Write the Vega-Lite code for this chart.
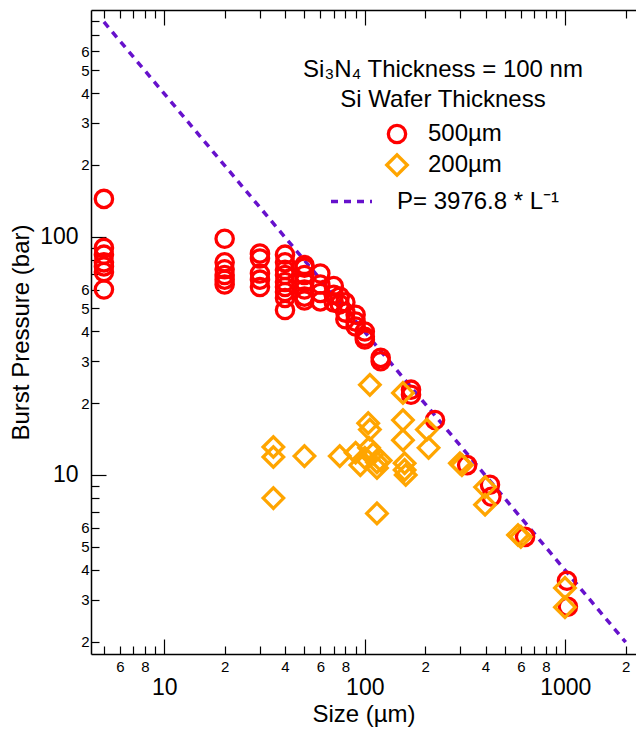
{
  "$schema": "https://vega.github.io/schema/vega-lite/v6.json",
  "width": 545,
  "height": 644,
  "autosize": {"type": "none"},
  "padding": {"left": 91, "top": 10, "right": 0, "bottom": 76},
  "background": "white",
  "config": {
    "view": {"stroke": null},
    "font": "Liberation Sans",
    "axis": {
      "grid": false,
      "domainColor": "black",
      "domainWidth": 1.5,
      "tickColor": "black",
      "tickWidth": 1.2,
      "labelColor": "black",
      "titleColor": "black",
      "titleFont": "Liberation Sans",
      "labelFont": "Liberation Sans",
      "labelFontSize": 15,
      "titleFontWeight": "normal",
      "labelOverlap": false,
      "labelFlush": false,
      "labelBound": false
    },
    "legend": {
      "titleFont": "Liberation Sans",
      "labelFont": "Liberation Sans",
      "titleColor": "black",
      "labelColor": "black",
      "titleFontWeight": "normal",
      "titleLimit": 600,
      "labelLimit": 600
    }
  },
  "datasets": {
    "pts": [
      {"size": 5, "pressure": 144, "wafer": "500µm"},
      {"size": 5, "pressure": 89.7, "wafer": "500µm"},
      {"size": 5, "pressure": 84, "wafer": "500µm"},
      {"size": 5, "pressure": 78, "wafer": "500µm"},
      {"size": 5, "pressure": 75, "wafer": "500µm"},
      {"size": 5, "pressure": 71, "wafer": "500µm"},
      {"size": 5, "pressure": 60, "wafer": "500µm"},
      {"size": 20, "pressure": 98, "wafer": "500µm"},
      {"size": 20, "pressure": 78, "wafer": "500µm"},
      {"size": 20, "pressure": 73, "wafer": "500µm"},
      {"size": 20, "pressure": 69, "wafer": "500µm"},
      {"size": 20, "pressure": 66, "wafer": "500µm"},
      {"size": 20, "pressure": 63, "wafer": "500µm"},
      {"size": 30, "pressure": 85, "wafer": "500µm"},
      {"size": 30, "pressure": 81, "wafer": "500µm"},
      {"size": 30, "pressure": 70, "wafer": "500µm"},
      {"size": 30, "pressure": 66, "wafer": "500µm"},
      {"size": 30, "pressure": 61.5, "wafer": "500µm"},
      {"size": 40, "pressure": 84, "wafer": "500µm"},
      {"size": 40, "pressure": 78, "wafer": "500µm"},
      {"size": 40, "pressure": 72.5, "wafer": "500µm"},
      {"size": 40, "pressure": 69, "wafer": "500µm"},
      {"size": 40, "pressure": 64.5, "wafer": "500µm"},
      {"size": 40, "pressure": 61.5, "wafer": "500µm"},
      {"size": 40, "pressure": 58.6, "wafer": "500µm"},
      {"size": 40, "pressure": 55.3, "wafer": "500µm"},
      {"size": 40, "pressure": 49.2, "wafer": "500µm"},
      {"size": 50, "pressure": 76, "wafer": "500µm"},
      {"size": 50, "pressure": 74, "wafer": "500µm"},
      {"size": 50, "pressure": 69, "wafer": "500µm"},
      {"size": 50, "pressure": 64.5, "wafer": "500µm"},
      {"size": 50, "pressure": 60, "wafer": "500µm"},
      {"size": 50, "pressure": 56, "wafer": "500µm"},
      {"size": 50, "pressure": 54, "wafer": "500µm"},
      {"size": 60, "pressure": 70, "wafer": "500µm"},
      {"size": 60, "pressure": 63, "wafer": "500µm"},
      {"size": 60, "pressure": 58, "wafer": "500µm"},
      {"size": 60, "pressure": 53.5, "wafer": "500µm"},
      {"size": 70, "pressure": 62, "wafer": "500µm"},
      {"size": 70, "pressure": 57, "wafer": "500µm"},
      {"size": 70, "pressure": 53, "wafer": "500µm"},
      {"size": 75, "pressure": 56, "wafer": "500µm"},
      {"size": 75, "pressure": 52, "wafer": "500µm"},
      {"size": 80, "pressure": 53, "wafer": "500µm"},
      {"size": 80, "pressure": 48, "wafer": "500µm"},
      {"size": 80, "pressure": 45, "wafer": "500µm"},
      {"size": 90, "pressure": 47, "wafer": "500µm"},
      {"size": 90, "pressure": 44, "wafer": "500µm"},
      {"size": 90, "pressure": 42, "wafer": "500µm"},
      {"size": 100, "pressure": 40, "wafer": "500µm"},
      {"size": 100, "pressure": 38, "wafer": "500µm"},
      {"size": 100, "pressure": 37, "wafer": "500µm"},
      {"size": 120, "pressure": 31, "wafer": "500µm"},
      {"size": 120, "pressure": 30, "wafer": "500µm"},
      {"size": 170, "pressure": 22.8, "wafer": "500µm"},
      {"size": 170, "pressure": 21.7, "wafer": "500µm"},
      {"size": 224, "pressure": 17, "wafer": "500µm"},
      {"size": 324, "pressure": 11, "wafer": "500µm"},
      {"size": 421, "pressure": 9.1, "wafer": "500µm"},
      {"size": 428, "pressure": 8.1, "wafer": "500µm"},
      {"size": 630, "pressure": 5.5, "wafer": "500µm"},
      {"size": 1019, "pressure": 3.6, "wafer": "500µm"},
      {"size": 1030, "pressure": 2.8, "wafer": "500µm"},
      {"size": 35, "pressure": 13.1, "wafer": "200µm"},
      {"size": 35, "pressure": 11.9, "wafer": "200µm"},
      {"size": 35, "pressure": 8.0, "wafer": "200µm"},
      {"size": 50, "pressure": 12.0, "wafer": "200µm"},
      {"size": 75, "pressure": 12.0, "wafer": "200µm"},
      {"size": 106, "pressure": 23.9, "wafer": "200µm"},
      {"size": 104, "pressure": 16.5, "wafer": "200µm"},
      {"size": 106, "pressure": 15.5, "wafer": "200µm"},
      {"size": 90, "pressure": 12.4, "wafer": "200µm"},
      {"size": 95, "pressure": 11.0, "wafer": "200µm"},
      {"size": 100, "pressure": 11.8, "wafer": "200µm"},
      {"size": 105, "pressure": 13.0, "wafer": "200µm"},
      {"size": 110, "pressure": 12.3, "wafer": "200µm"},
      {"size": 115, "pressure": 11.3, "wafer": "200µm"},
      {"size": 115, "pressure": 10.7, "wafer": "200µm"},
      {"size": 120, "pressure": 11.5, "wafer": "200µm"},
      {"size": 115, "pressure": 6.9, "wafer": "200µm"},
      {"size": 155, "pressure": 22.1, "wafer": "200µm"},
      {"size": 155, "pressure": 17.0, "wafer": "200µm"},
      {"size": 155, "pressure": 14.0, "wafer": "200µm"},
      {"size": 158, "pressure": 11.2, "wafer": "200µm"},
      {"size": 158, "pressure": 10.5, "wafer": "200µm"},
      {"size": 160, "pressure": 10.0, "wafer": "200µm"},
      {"size": 204, "pressure": 15.5, "wafer": "200µm"},
      {"size": 208, "pressure": 13.0, "wafer": "200µm"},
      {"size": 298, "pressure": 11.2, "wafer": "200µm"},
      {"size": 305, "pressure": 11.0, "wafer": "200µm"},
      {"size": 398, "pressure": 8.9, "wafer": "200µm"},
      {"size": 398, "pressure": 7.5, "wafer": "200µm"},
      {"size": 581, "pressure": 5.6, "wafer": "200µm"},
      {"size": 600, "pressure": 5.5, "wafer": "200µm"},
      {"size": 996, "pressure": 3.36, "wafer": "200µm"},
      {"size": 996, "pressure": 2.79, "wafer": "200µm"}
    ],
    "fit": [
      {"size": 5, "pressure": 795.36, "series": "P= 3976.8 * L⁻¹"},
      {"size": 2000, "pressure": 1.9884, "series": "P= 3976.8 * L⁻¹"}
    ]
  },
  "encoding": {
    "y": {
      "field": "pressure",
      "type": "quantitative",
      "scale": {"type": "log", "domain": [1.774, 893], "nice": false, "zero": false},
      "axis": {
        "orient": "left",
        "title": "Burst Pressure (bar)",
        "titleFontSize": 24,
        "titlePadding": 6,
        "values": [2, 3, 4, 5, 6, 7, 8, 9, 10, 20, 30, 40, 50, 60, 70, 80, 90, 100, 200, 300, 400, 500, 600, 700, 800],
        "format": "d",
        "labelExpr": "indexof([10,100], datum.value) >= 0 ? datum.label : (indexof([2,3,4,5,6,20,30,40,50,60,200,300,400,500,600], datum.value) >= 0 ? substring(datum.label, 0, 1) : '')",
        "labelFontSize": {"condition": {"test": "indexof([10,100], datum.value) >= 0", "value": 23}, "value": 15},
        "labelPadding": {"condition": {"test": "indexof([10,100], datum.value) >= 0", "value": 28}, "value": 10},
        "tickSize": {"condition": {"test": "indexof([10,100], datum.value) >= 0", "value": -15}, "value": -8}
      }
    }
  },
  "layer": [
    {
      "data": {"name": "fit"},
      "mark": {"type": "line", "color": "#6611cc", "strokeWidth": 3.5, "strokeCap": "butt"},
      "encoding": {
        "x": {
          "field": "size",
          "type": "quantitative",
          "scale": {"type": "log", "domain": [4.31, 2252], "nice": false, "zero": false},
          "axis": {
            "orient": "top",
            "title": null,
            "labels": false,
            "values": [5, 6, 7, 8, 9, 10, 20, 30, 40, 50, 60, 70, 80, 90, 100, 200, 300, 400, 500, 600, 700, 800, 900, 1000, 2000],
            "tickSize": {"condition": {"test": "indexof([10,100,1000], datum.value) >= 0", "value": -15}, "value": -8}
          }
        },
        "strokeDash": {
          "field": "series",
          "type": "nominal",
          "scale": {"domain": ["P= 3976.8 * L⁻¹"], "range": [[7, 6]]},
          "legend": {
            "orient": "none",
            "legendX": 238,
            "legendY": 169,
            "title": null,
            "labelFontSize": 24,
            "symbolType": "stroke",
            "symbolSize": 1681,
            "symbolStrokeColor": "#6611cc",
            "symbolStrokeWidth": 3.5,
            "symbolOffset": 0,
            "labelOffset": 23
          }
        }
      }
    },
    {
      "data": {"name": "pts"},
      "mark": {"type": "point", "filled": false, "strokeWidth": 3.3, "opacity": 1},
      "encoding": {
        "x": {
          "field": "size",
          "type": "quantitative",
          "scale": {"type": "log", "domain": [4.31, 2252], "nice": false, "zero": false},
          "axis": {
            "orient": "bottom",
            "title": "Size (µm)",
            "titleFontSize": 24,
            "titlePadding": 3,
            "values": [5, 6, 7, 8, 9, 10, 20, 30, 40, 50, 60, 70, 80, 90, 100, 200, 300, 400, 500, 600, 700, 800, 900, 1000, 2000],
            "format": "d",
            "labelExpr": "indexof([10,100,1000], datum.value) >= 0 ? datum.label : (indexof([6,8,20,40,60,80,200,400,600,800,2000], datum.value) >= 0 ? substring(datum.label, 0, 1) : '')",
            "labelFontSize": {"condition": {"test": "indexof([10,100,1000], datum.value) >= 0", "value": 23}, "value": 15},
            "labelPadding": {"condition": {"test": "indexof([10,100,1000], datum.value) >= 0", "value": 37}, "value": 13},
            "tickSize": {"condition": {"test": "indexof([10,100,1000], datum.value) >= 0", "value": -15}, "value": -8}
          }
        },
        "color": {
          "field": "wafer",
          "type": "nominal",
          "scale": {"domain": ["500µm", "200µm"], "range": ["#ff0000", "#ffa500"]},
          "legend": {
            "orient": "none",
            "legendX": 212,
            "legendY": 48,
            "title": ["Si₃N₄ Thickness = 100 nm", "Si Wafer Thickness"],
            "titleFontSize": 24,
            "titleLineHeight": 30,
            "titleAnchor": "middle",
            "titleAlign": "center",
            "titlePadding": 10,
            "labelFontSize": 24,
            "symbolSize": 320,
            "symbolStrokeWidth": 3.3,
            "symbolOffset": 0,
            "labelOffset": 19,
            "rowPadding": -2
          }
        },
        "shape": {
          "field": "wafer",
          "type": "nominal",
          "scale": {"domain": ["500µm", "200µm"], "range": ["circle", "diamond"]}
        },
        "size": {
          "field": "wafer",
          "type": "nominal",
          "scale": {"domain": ["500µm", "200µm"], "range": [300, 420]},
          "legend": null
        }
      }
    }
  ],
  "resolve": {"axis": {"x": "independent"}}
}
